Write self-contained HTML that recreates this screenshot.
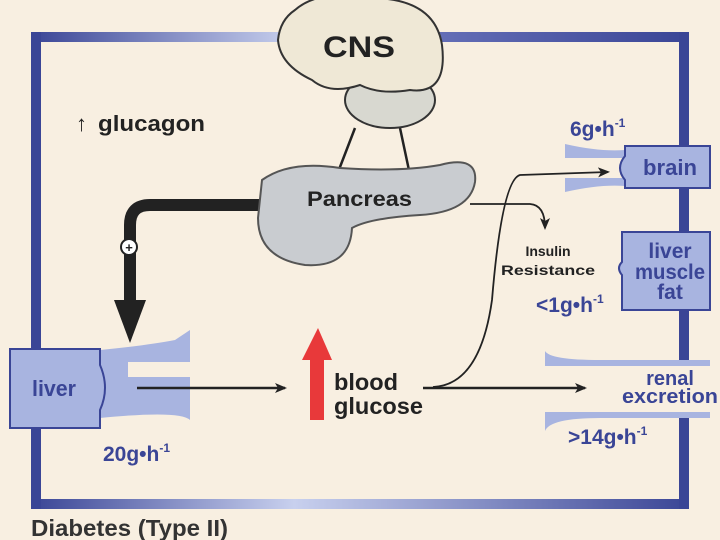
<!DOCTYPE html>
<html><head><meta charset="utf-8"><style>
body{margin:0;background:#f8efe1;}
svg{display:block;font-family:"Liberation Sans",sans-serif;font-weight:bold;}
</style></head><body>
<svg width="720" height="540" viewBox="0 0 720 540">
<defs>
<linearGradient id="gt" x1="0" x2="1"><stop offset="0" stop-color="#3a4596"/><stop offset="0.4" stop-color="#c8d0ee"/><stop offset="0.6" stop-color="#6670b8"/><stop offset="1" stop-color="#3a4596"/></linearGradient>
<linearGradient id="gb" x1="0" x2="1"><stop offset="0" stop-color="#3a4596"/><stop offset="0.4" stop-color="#c8d0ee"/><stop offset="1" stop-color="#3a4596"/></linearGradient>
<marker id="ah" markerWidth="12" markerHeight="10" refX="10" refY="5" orient="auto" markerUnits="userSpaceOnUse"><path d="M0,0 L12,5 L0,10 L3,5z" fill="#222"/></marker>
</defs>
<rect x="0" y="0" width="720" height="540" fill="#f8efe1"/>
<!-- frame -->
<rect x="31" y="32" width="658" height="10" fill="url(#gt)"/>
<rect x="31" y="499" width="658" height="10" fill="url(#gb)"/>
<rect x="31" y="32" width="10" height="477" fill="#3a4596"/>
<rect x="679" y="32" width="10" height="477" fill="#3a4596"/>
<rect x="676" y="366" width="16" height="46" fill="#f8efe1"/>
<!-- brain -->
<path d="M355,128 L335,180 M335,180 L315,200 M335,180 L355,200 M335,175 L345,200 M400,128 L410,175 L395,200 M410,175 L430,200 M410,175 L385,200" stroke="#222" stroke-width="2.5" fill="none"/>
<ellipse cx="390" cy="100" rx="45" ry="28" fill="#d8d8d0" stroke="#333" stroke-width="2"/>
<path d="M295,10 Q320,-12 375,-2 Q435,0 442,45 Q448,95 410,90 Q380,95 360,85 Q330,95 312,80 Q280,65 278,40 Q280,20 295,10z" fill="#efe8d6" stroke="#333" stroke-width="2"/>
<text x="323" y="57" font-size="30" fill="#222" textLength="72" lengthAdjust="spacingAndGlyphs">CNS</text>
<!-- black pancreas arrow -->
<path d="M262,205 L150,205 Q130,205 130,225 L130,305" stroke="#222" stroke-width="12" fill="none"/>
<path d="M114,300 L146,300 L130,343z" fill="#222"/>
<circle cx="129" cy="247" r="8" fill="#fff" stroke="#222" stroke-width="2"/>
<text x="129" y="252" font-size="13" text-anchor="middle" fill="#222">+</text>
<!-- pancreas -->
<path d="M262,180 Q290,160 340,168 Q400,172 440,165 Q478,155 475,182 Q470,212 420,215 Q370,218 352,228 Q350,268 305,265 Q258,258 258,218z" fill="#c9ccd0" stroke="#555" stroke-width="2"/>
<text x="307" y="206" font-size="21" fill="#222" textLength="105" lengthAdjust="spacingAndGlyphs">Pancreas</text>
<text x="76" y="131" font-size="22" fill="#222" font-weight="normal">↑</text>
<text x="98" y="131" font-size="22" fill="#222" textLength="107" lengthAdjust="spacingAndGlyphs">glucagon</text>
<!-- liver -->
<path d="M100,350 Q150,345 175,340 Q190,330 190,330 L190,362 L128,362 L128,377 L190,377 L190,420 Q180,410 100,418z" fill="#a8b4e0"/>
<path d="M10,349 L100,349 L100,365 Q110,388 100,410 L100,428 L10,428z" fill="#a8b4e0" stroke="#3a4596" stroke-width="2"/>
<text x="32" y="396" font-size="22" fill="#3a4596" textLength="44" lengthAdjust="spacingAndGlyphs">liver</text>
<text x="103" y="461" font-size="21" fill="#3a4596">20g•h<tspan font-size="12" dy="-9">-1</tspan></text>
<line x1="137" y1="388" x2="285" y2="388" stroke="#222" stroke-width="2.5" marker-end="url(#ah)"/>
<!-- red arrow -->
<path d="M310,420 L310,360 L302,360 L318,328 L332,360 L324,360 L324,420z" fill="#e8393a"/>
<text x="334" y="390" font-size="23" fill="#222" textLength="64" lengthAdjust="spacingAndGlyphs">blood</text>
<text x="334" y="414" font-size="23" fill="#222" textLength="89" lengthAdjust="spacingAndGlyphs">glucose</text>
<line x1="423" y1="388" x2="585" y2="388" stroke="#222" stroke-width="2.5" marker-end="url(#ah)"/>
<path d="M433,387 Q480,385 492,300 Q502,180 520,175 L608,172" stroke="#222" stroke-width="1.8" fill="none" marker-end="url(#ah)"/>
<path d="M470,204 L530,204 Q545,205 545,228" stroke="#222" stroke-width="1.8" fill="none" marker-end="url(#ah)"/>
<text x="548" y="256" font-size="14" fill="#222" text-anchor="middle">Insulin</text>
<text x="548" y="275" font-size="14" fill="#222" text-anchor="middle" textLength="94" lengthAdjust="spacingAndGlyphs">Resistance</text>
<!-- brain box -->
<path d="M565,144 Q600,152 625,150 L625,158 L565,158z M565,192 Q600,184 625,186 L625,178 L565,178z" fill="#a8b4e0"/>
<path d="M625,146 L710,146 L710,188 L625,188 L625,180 Q615,168 625,156z" fill="#a8b4e0" stroke="#3a4596" stroke-width="2"/>
<text x="643" y="175" font-size="22" fill="#3a4596" textLength="54" lengthAdjust="spacingAndGlyphs">brain</text>
<text x="570" y="136" font-size="21" fill="#3a4596">6g•h<tspan font-size="12" dy="-9">-1</tspan></text>
<!-- liver muscle fat -->
<path d="M622,232 L710,232 L710,310 L622,310 L622,275 Q616,268 622,262z" fill="#a8b4e0" stroke="#3a4596" stroke-width="2"/>
<text x="670" y="258" font-size="21" fill="#3a4596" text-anchor="middle">liver</text>
<text x="670" y="279" font-size="21" fill="#3a4596" text-anchor="middle" textLength="70" lengthAdjust="spacingAndGlyphs">muscle</text>
<text x="670" y="299" font-size="21" fill="#3a4596" text-anchor="middle">fat</text>
<text x="536" y="312" font-size="21" fill="#3a4596">&lt;1g•h<tspan font-size="12" dy="-9">-1</tspan></text>
<!-- renal -->
<path d="M545,351 Q550,360 600,360 L710,360 L710,366 L545,366z M545,431 Q550,418 600,418 L710,418 L710,412 L545,412z" fill="#a8b4e0"/>
<text x="670" y="385" font-size="20" fill="#3a4596" text-anchor="middle">renal</text>
<text x="670" y="403" font-size="20" fill="#3a4596" text-anchor="middle" textLength="96" lengthAdjust="spacingAndGlyphs">excretion</text>
<text x="568" y="444" font-size="21" fill="#3a4596">&gt;14g•h<tspan font-size="12" dy="-9">-1</tspan></text>
<text x="31" y="536" font-size="23" fill="#333" textLength="197" lengthAdjust="spacingAndGlyphs">Diabetes (Type II)</text>
</svg>
</body></html>
